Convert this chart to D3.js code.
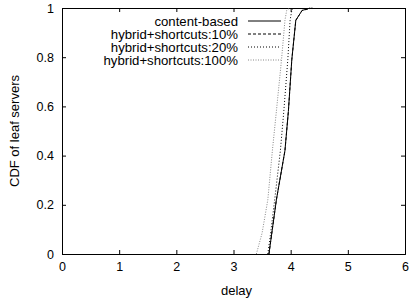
<!DOCTYPE html>
<html>
<head>
<meta charset="utf-8">
<script src="https://cdn.jsdelivr.net/npm/d3@7"></script>
<style>
  body { margin: 0; background: #fff; }
  text { font-family: "Liberation Sans", Arial, sans-serif; font-size: 12px; fill: #000; }
</style>
</head>
<body>
<div id="chart"></div>
<script>
// données
const seriesNames = ["content-based", "hybrid+shortcuts:10%", "hybrid+shortcuts:20%", "hybrid+shortcuts:100%"];
const cdfLevels = [0, 0.085, 0.22, 0.42, 0.58, 0.79, 0.95, 0.99, 1];
const delayContent = [3.62, 3.67, 3.75, 3.90, 3.96, 4.02, 4.09, 4.20, 4.34];
const delay10 = [3.62, 3.67, 3.75, 3.90, 3.96, 4.02, 4.09, 4.20, 4.38];
const delay20 = [3.60, 3.65, 3.72, 3.82, 3.88, 3.95, 3.99, 4.02, 4.05];
const delay100 = [3.40, 3.50, 3.60, 3.68, 3.75, 3.84, 3.90, 3.93, 3.98];
const xTicks = [0, 1, 2, 3, 4, 5, 6];
const yTicks = [0, 0.2, 0.4, 0.6, 0.8, 1];

// marges
var margin = { top: 8, right: 4, bottom: 46, left: 62 },
    width = 409 - margin.left - margin.right,
    height = 300 - margin.top - margin.bottom;

const svg = d3.select("#chart")
    .append("svg")
    .attr("width", 409)
    .attr("height", 300)
    .append("g")
    .attr("transform", "translate(" + margin.left + "," + margin.top + ")");

var x = d3.scaleLinear().domain([0, 6]).range([0, width]);
var y = d3.scaleLinear().domain([0, 1]).range([height, 0]);

// axes (ticks vers l'intérieur, comme gnuplot)
const tickLen = 4;
svg.append("g")
    .attr("transform", "translate(0," + height + ")")
    .call(d3.axisBottom(x).tickValues(xTicks).tickSize(-tickLen).tickPadding(8).tickFormat(d3.format("d")));
svg.append("g")
    .call(d3.axisTop(x).tickValues(xTicks).tickSize(-tickLen).tickFormat(""));
svg.append("g")
    .call(d3.axisLeft(y).tickValues(yTicks).tickSize(-tickLen).tickPadding(8).tickFormat(d => d === 0 || d === 1 ? d3.format("d")(d) : d3.format(".1f")(d)));
svg.append("g")
    .attr("transform", "translate(" + width + ",0)")
    .call(d3.axisRight(y).tickValues(yTicks).tickSize(-tickLen).tickFormat(""));

svg.selectAll(".domain").attr("stroke", "#000").attr("stroke-width", 1);
svg.selectAll(".tick line").attr("stroke", "#000");
svg.selectAll(".tick text").style("font-size", "12.5px").attr("fill", "#000");

// titres des axes
svg.append("text")
    .attr("x", width / 2 + 3)
    .attr("y", height + 41)
    .attr("text-anchor", "middle")
    .style("font-size", "13px")
    .text("delay");
svg.append("text")
    .attr("transform", "translate(" + (-43) + "," + (height / 2) + ") rotate(-90)")
    .attr("text-anchor", "middle")
    .style("font-size", "13px")
    .text("CDF of leaf servers");

// courbes
const styles = [
    { stroke: "#000", dash: null, width: 1 },
    { stroke: "#000", dash: "3,2", width: 1 },
    { stroke: "#000", dash: "1,2", width: 1 },
    { stroke: "#888", dash: "1,1.5", width: 1 }
];
const delays = [delayContent, delay10, delay20, delay100];

const line = d3.line()
    .x(d => x(d[0]))
    .y(d => y(d[1]));

delays.forEach((serie, i) => {
    const pts = serie.map((v, j) => [v, cdfLevels[j]]);
    svg.append("path")
        .datum(pts)
        .attr("fill", "none")
        .attr("stroke", styles[i].stroke)
        .attr("stroke-width", styles[i].width)
        .attr("stroke-dasharray", styles[i].dash)
        .attr("d", line);
});

// légende
const legend = svg.append("g");
seriesNames.forEach((name, i) => {
    const yy = 13 + i * 13;
    legend.append("text")
        .attr("x", 176)
        .attr("y", yy)
        .attr("dy", "0.35em")
        .attr("text-anchor", "end")
        .style("font-size", "13.2px")
        .text(name);
    legend.append("line")
        .attr("x1", 186)
        .attr("x2", 219)
        .attr("y1", yy)
        .attr("y2", yy)
        .attr("stroke", styles[i].stroke)
        .attr("stroke-width", styles[i].width)
        .attr("stroke-dasharray", styles[i].dash);
});
</script>
</body>
</html>
